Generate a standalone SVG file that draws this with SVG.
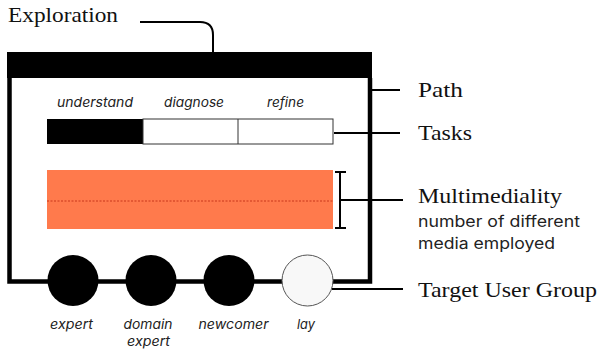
<svg xmlns="http://www.w3.org/2000/svg" width="599" height="350" viewBox="0 0 599 350">
<style>
.serif{font-family:"Liberation Serif","DejaVu Serif",serif;font-size:21px;fill:#111}
.it{font-family:Inter,"Liberation Sans",sans-serif;font-style:italic;font-size:13.5px;fill:#222;text-anchor:middle}
.sans{font-family:Inter,"Liberation Sans",sans-serif;font-size:15.5px;fill:#222}
.ln{stroke:#000;stroke-width:2;fill:none}
</style>
<rect width="599" height="350" fill="#fff"/>
<g id="frame">
<rect x="7" y="52" width="365" height="26" fill="#000"/>
<path d="M9.5 78 V281.5 H370 V78" fill="none" stroke="#000" stroke-width="4.5"/>
</g>
<g id="tasks">
<rect x="47" y="119" width="96" height="25" fill="#000"/>
<rect x="143" y="119" width="190" height="25" fill="#fff" stroke="#333" stroke-width="1"/>
<line x1="238" y1="119" x2="238" y2="144" stroke="#333" stroke-width="1"/>
<text class="it" x="95" y="107" textLength="76" lengthAdjust="spacingAndGlyphs">understand</text>
<text class="it" x="194" y="107" textLength="60" lengthAdjust="spacingAndGlyphs">diagnose</text>
<text class="it" x="285.5" y="107" textLength="37" lengthAdjust="spacingAndGlyphs">refine</text>
</g>
<g id="media">
<rect x="47" y="170" width="286" height="59" fill="#FF7A4C"/>
<line x1="47" y1="201" x2="333" y2="201" stroke="#C8361B" stroke-width="1" stroke-dasharray="2 1.5"/>
<path d="M335 172 H346 M340 172 V228 M335 228 H346" class="ln"/>
</g>
<g id="expert"><circle cx="73" cy="280.5" r="25.5" fill="#000"/><text class="it" x="71.5" y="329" textLength="43" lengthAdjust="spacingAndGlyphs">expert</text></g>
<g id="domain-expert"><circle cx="151" cy="280.5" r="25.5" fill="#000"/><text class="it" x="148" y="329" textLength="49" lengthAdjust="spacingAndGlyphs">domain</text><text class="it" x="148.5" y="346" textLength="43" lengthAdjust="spacingAndGlyphs">expert</text></g>
<g id="newcomer"><circle cx="229" cy="280.5" r="25.5" fill="#000"/><text class="it" x="233.5" y="329" textLength="70" lengthAdjust="spacingAndGlyphs">newcomer</text></g>
<g id="lay"><circle cx="307.5" cy="280.5" r="25.5" fill="#f8f8f8" stroke="#555" stroke-width="1"/><text class="it" x="306" y="329" textLength="18" lengthAdjust="spacingAndGlyphs">lay</text></g>
<g id="connectors">
<path d="M140 22 H200 Q213 22 213 35 V52" class="ln"/>
<line x1="372" y1="90" x2="400" y2="90" class="ln"/>
<line x1="334" y1="133" x2="400" y2="133" class="ln"/>
<line x1="340" y1="200" x2="403" y2="200" class="ln"/>
<line x1="332" y1="289" x2="403" y2="289" class="ln"/>
</g>
<g id="labels">
<text class="serif" x="8" y="22" textLength="110" lengthAdjust="spacingAndGlyphs">Exploration</text>
<text class="serif" x="418" y="97" textLength="45" lengthAdjust="spacingAndGlyphs">Path</text>
<text class="serif" x="418" y="140" textLength="54" lengthAdjust="spacingAndGlyphs">Tasks</text>
<text class="serif" x="418" y="203" textLength="144" lengthAdjust="spacingAndGlyphs">Multimediality</text>
<text class="sans" x="418" y="227" textLength="162" lengthAdjust="spacingAndGlyphs">number of different</text>
<text class="sans" x="418" y="249" textLength="137" lengthAdjust="spacingAndGlyphs">media employed</text>
<text class="serif" x="418" y="297" textLength="179" lengthAdjust="spacingAndGlyphs">Target User Group</text>
</g>
</svg>
